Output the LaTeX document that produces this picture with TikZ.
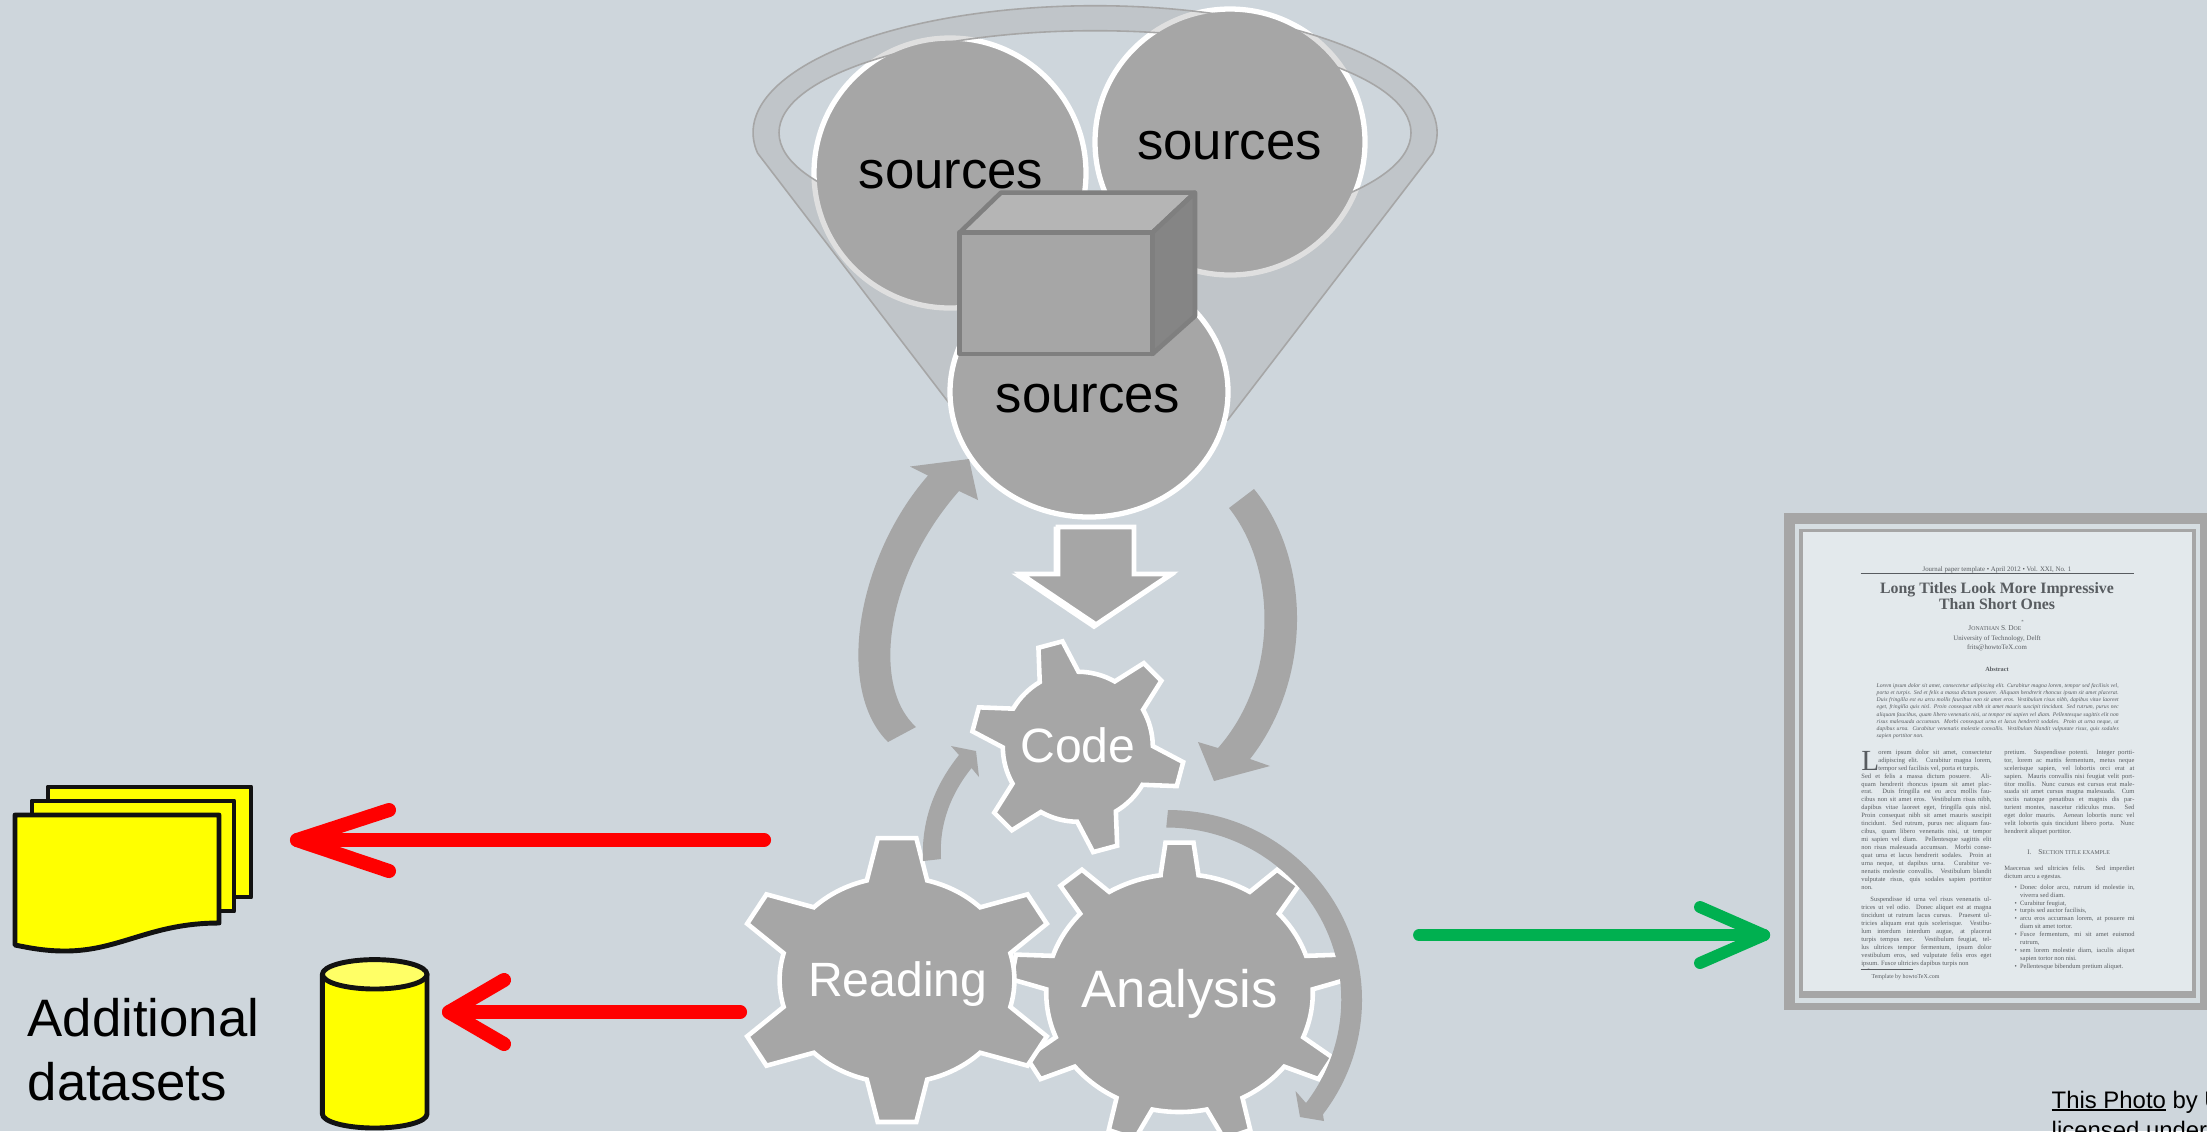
\documentclass[tikz,border=0pt]{standalone}
\usepackage{fontspec}
\usepackage{tikz}
\newfontfamily\arial{Liberation Sans}
\newfontfamily\paperserif{Liberation Serif}
\definecolor{slidebg}{RGB}{206,214,220}
\definecolor{shapegray}{RGB}{166,166,166}
\definecolor{boxline}{RGB}{127,127,127}
\definecolor{boxtop}{RGB}{181,181,181}
\definecolor{boxside}{RGB}{133,133,133}
\definecolor{paperbg}{RGB}{227,233,236}
\definecolor{papertext}{RGB}{88,92,96}
\definecolor{arrowgreen}{RGB}{0,176,80}
\definecolor{datayellow}{RGB}{255,255,0}
\definecolor{datatop}{RGB}{255,255,102}
\definecolor{arrowred}{RGB}{255,0,0}
\newcommand{\nl}{\linebreak}
\newcommand{\paperfont}{\paperserif\fontsize{1.85}{2.26}\selectfont}
\newcommand{\papersc}[2]{{\fontsize{2.1}{2.4}\selectfont #1}{\fontsize{1.65}{2.4}\selectfont #2}}
\newcommand{\paperitem}[1]{\par\hangindent=.054cm\noindent\makebox[.054cm][l]{\textbullet}#1}
% center, xscale, root radius, tip radius, teeth, first tooth, root half angle, tip half angle
\newcommand{\drawgear}[8]{%
\begin{scope}[shift={(#1)},xscale=#2]
\pgfmathsetmacro{\gearstep}{360/#5}
\draw[gearline] ({#6-#7}:#3)
  \foreach \i [evaluate=\i as \a using #6+(\i-1)*\gearstep] in {1,...,#5} {
    -- ({\a-#8}:#4) -- ({\a+#8}:#4) -- ({\a+#7}:#3)
    arc[start angle={\a+#7},end angle={\a+\gearstep-#7},radius=#3]
  } -- cycle;
\end{scope}}
\tikzset{
  sourcedisk/.style={fill=shapegray,draw=white,line width=1.5pt},
  gearline/.style={fill=shapegray,draw=white,line width=1.3pt},
  flowarrow/.style={fill=shapegray},
  redarrow/.style={draw=arrowred,line width=4pt,line cap=round,line join=round},
  greenarrow/.style={draw=arrowgreen,line width=3.4pt,line cap=round,line join=round},
  dataline/.style={fill=datayellow,draw=black!93,line width=1.4pt,line join=round},
  cubeface/.style={draw=boxline,line width=1.3pt,line join=round},
  sourcelabel/.style={anchor=base,inner sep=0,font=\arial\fontsize{15}{17}\selectfont},
  gearlabel/.style={anchor=base,inner sep=0,text=white,font=\arial\fontsize{13.7}{16}\selectfont},
  biglabel/.style={anchor=base,inner sep=0,text=white,font=\arial\fontsize{15}{18}\selectfont},
  papercol/.style={anchor=north west,inner sep=0,text=papertext,text width=1.3cm,align=justify,font=\paperfont},
  paperline/.style={anchor=center,inner sep=0,text=papertext,font=\paperserif\fontsize{1.95}{2.3}\selectfont},
}
\begin{document}
\begin{tikzpicture}[x=1mm,y=-1mm,scale=.1]
\useasboundingbox (0,0) rectangle (2207,1131);
\clip (0,0) rectangle (2207,1131);
\fill[slidebg] (0,0) rectangle (2207,1131);
% Two upper sources
\draw[sourcedisk] (950,173) ellipse [x radius=136,y radius=135];
\draw[sourcedisk] (1230,142) ellipse [x radius=135,y radius=133];
% Funnel
\path[fill=shapegray,fill opacity=.35,even odd rule,draw=shapegray,line width=.45pt]
  (757.5,153) arc[start angle=170.8,end angle=369.2,x radius=342,y radius=127]
  -- (1227.6,420) -- (962,420) -- cycle
  (1095,132.7) ellipse [x radius=316,y radius=102];
% Lower source
\draw[sourcedisk] (1089,392) ellipse [x radius=139,y radius=125];
\node[sourcelabel] (sourcea) at (951,188) {sources};
\node[sourcelabel] (sourceb) at (1229.5,159) {sources};
\node[sourcelabel] (sourcec) at (1088,412) {sources};
% Cube
\draw[cubeface,fill=boxtop] (959.6,232.6) -- (1001,192.6) -- (1195,192.6) -- (1152.4,232.6) -- cycle;
\draw[cubeface,fill=boxside] (1152.4,232.6) -- (1195,192.6) -- (1195,316) -- (1152.4,354) -- cycle;
\draw[cubeface,fill=shapegray] (959.6,232.6) rectangle (1152.4,354);
% Block arrow down
\draw[gearline] (1056,529) -- (1132,529) -- (1132,576) -- (1169,576) -- (1094,626.5) -- (1019,576) -- (1056,576) -- cycle;
\draw[gearline] (1058,527) -- (1134,527) -- (1134,574) -- (1171,574) -- (1096,624.5) -- (1021,574) -- (1058,574) -- cycle;
% Big left arrow
\fill[flowarrow] (888,742) .. controls (835,690) and (856,558) .. (928,475.5) -- (910,466.5) -- (969,459) -- (978,500) -- (959,491)
  .. controls (885,575) and (871,686) .. (916,727) -- cycle;
% Big right arrow
\fill[flowarrow] (1254,489) .. controls (1312,560) and (1312,680) .. (1250,759) -- (1270,766) -- (1214,781) -- (1198,742) -- (1218,748)
  .. controls (1278,680) and (1278,570) .. (1229,508) -- cycle;
% Gears
\drawgear{1077.8,746.7}{1}{75}{106.5}{6}{-105}{15.5}{6.7}
\drawgear{1179.5,993}{1.12}{119}{151}{9}{-90}{8.2}{4.75}
\drawgear{897,980}{1.14}{103}{143}{6}{-90}{14.9}{6.8}
% Small arrow
\fill[flowarrow] (923,861) .. controls (921,820) and (935,785) .. (959,755) -- (951,746) -- (976,751) -- (979,777) -- (971.5,768)
  .. controls (950,795) and (939,825) .. (941,859) -- cycle;
% Arc round the analysis gear
\fill[flowarrow] (1168,810) arc[start angle=-90,end angle=37,x radius=194,y radius=190]
  -- (1324,1121) -- (1300,1117) -- (1295.5,1091) -- (1306,1103)
  arc[start angle=37,end angle=-90,x radius=175,y radius=172] -- cycle;
\node[gearlabel] (codelabel) at (1077.8,762.7) {Code};
\node[gearlabel] (readinglabel) at (897.8,996) {Reading};
\node[biglabel] (analysislabel) at (1179.7,1007.7) {Analysis};
% Stacked documents
\draw[dataline] (48,787) rectangle (251,897);
\draw[dataline] (32,801) rectangle (234,911);
\draw[dataline] (15,815) -- (219,815) -- (219,923) .. controls (150,923) and (120,951) .. (65,951)
  .. controls (45,951) and (30,948) .. (15,945) -- cycle;
% Cylinder
\draw[dataline] (322.4,974.3) -- (322.4,1114) arc[start angle=180,end angle=0,x radius=52.3,y radius=14] -- (427,974.3) -- cycle;
\draw[dataline,fill=datatop] (374.7,974.3) ellipse [x radius=52.3,y radius=14.7];
\node[anchor=base west,inner sep=0,align=left,font=\arial\fontsize{15}{18.2}\selectfont] (datasetlabel) at (27,1100) {Additional\\datasets};
% Red arrows
\coordinate (redstarta) at (764,840);
\coordinate (redtipa) at (297,840);
\draw[redarrow] (redstarta) -- (redtipa);
\draw[redarrow] (389,810) -- (redtipa) -- (389,871);
\coordinate (redstartb) at (740,1012);
\coordinate (redtipb) at (449,1012);
\draw[redarrow] (redstartb) -- (redtipb);
\draw[redarrow] (504,980) -- (redtipb) -- (504,1044);
% Green arrow
\coordinate (greenstart) at (1419,935);
\coordinate (greentip) at (1764,935);
\draw[greenarrow] (greenstart) -- (greentip);
\draw[greenarrow] (1700,907) -- (greentip) -- (1700,963);
% Paper frame
\fill[shapegray] (1784,513.3) rectangle (2207,1009.5);
\fill[slidebg!60!paperbg] (1795,524) rectangle (2200,1003);
\fill[shapegray] (1799.3,529) rectangle (2196,998);
\fill[paperbg] (1802.7,532) rectangle (2192.3,991);
% Paper head
\node[paperline] (paperhead) at (1997,569.6) {Journal paper template \textbullet{} April 2012 \textbullet{} Vol. XXI, No. 1};
\draw[papertext,line width=.15pt] (1860.7,573.6) -- (2134,573.6);
\node[paperline,align=center,font=\paperserif\bfseries\fontsize{4.5}{4.35}\selectfont] (papertitle) at (1997,596) {Long Titles Look More Impressive\\Than Short Ones};
\node[paperline] (paperauthor) at (1997,625.6) {\papersc{J}{ONATHAN} \papersc{S}{.} \papersc{D}{OE}\textsuperscript{*}};
\node[paperline] (paperuni) at (1997,638.4) {University of Technology, Delft};
\node[paperline] (papermail) at (1997,648) {frits@howtoTeX.com};
\node[paperline,font=\paperserif\bfseries\fontsize{1.8}{2}\selectfont] (paperabstract) at (1997,669) {Abstract};
\node[papercol,text width=2.42cm,font=\paperserif\itshape\fontsize{1.62}{2.06}\selectfont] (abstracttext) at (1876,682.5) {Lorem ipsum dolor sit amet, consectetur adipiscing elit. Curabitur magna lorem, tempor sed facilisis vel,\nl
porta et turpis. Sed et felis a massa dictum posuere. Aliquam hendrerit rhoncus ipsum sit amet placerat.\nl
Duis fringilla est eu arcu mollis faucibus non sit amet eros. Vestibulum risus nibh, dapibus vitae laoreet\nl
eget, fringilla quis nisl. Proin consequat nibh sit amet mauris suscipit tincidunt. Sed rutrum, purus nec\nl
aliquam faucibus, quam libero venenatis nisi, ut tempor mi sapien vel diam. Pellentesque sagittis elit non\nl
risus malesuada accumsan. Morbi consequat urna et lacus hendrerit sodales. Proin at urna neque, ut\nl
dapibus urna. Curabitur venenatis molestie convallis. Vestibulum blandit vulputate risus, quis sodales\nl
sapien porttitor non.};
% Left column
\node[anchor=base west,inner sep=0,text=papertext,font=\paperserif\fontsize{8.3}{9}\selectfont] (dropcap) at (1860.7,770.4) {L};
\node[papercol,text width=1.133cm] (leftcoltop) at (1877.7,749) {\parfillskip=0pt orem ipsum dolor sit amet, consectetur\nl
adipiscing elit. Curabitur magna lorem,\nl
tempor sed facilisis vel, porta et turpis.};
\node[papercol] (leftcola) at (1860.7,772.8) {Sed et felis a massa dictum posuere. Ali-\nl
quam hendrerit rhoncus ipsum sit amet plac-\nl
erat. Duis fringilla est eu arcu mollis fau-\nl
cibus non sit amet eros. Vestibulum risus nibh,\nl
dapibus vitae laoreet eget, fringilla quis nisl.\nl
Proin consequat nibh sit amet mauris suscipit\nl
tincidunt. Sed rutrum, purus nec aliquam fau-\nl
cibus, quam libero venenatis nisi, ut tempor\nl
mi sapien vel diam. Pellentesque sagittis elit\nl
non risus malesuada accumsan. Morbi conse-\nl
quat urna et lacus hendrerit sodales. Proin at\nl
urna neque, ut dapibus urna. Curabitur ve-\nl
nenatis molestie convallis. Vestibulum blandit\nl
vulputate risus, quis sodales sapien porttitor\nl
non.};
\node[papercol] (leftcolb) at (1860.7,896.6) {\hspace*{.09cm}Suspendisse id urna vel risus venenatis ul-\nl
trices ut vel odio. Donec aliquet est at magna\nl
tincidunt ut rutrum lacus cursus. Praesent ul-\nl
tricies aliquam erat quis scelerisque. Vestibu-\nl
lum interdum interdum augue, at placerat\nl
turpis tempus nec. Vestibulum feugiat, tel-\nl
lus ultrices tempor fermentum, ipsum dolor\nl
vestibulum eros, sed vulputate felis eros eget\nl
ipsum. Fusce ultricies dapibus turpis non};
\draw[papertext,line width=.1pt] (1860.7,969.6) -- (1913,969.6);
\node[anchor=west,inner sep=0,text=papertext,font=\paperserif\fontsize{1.7}{2}\selectfont] (papernote) at (1867,974) {\textsuperscript{*}Template by howtoTeX.com};
% Right column
\node[papercol] (rightcola) at (2003.7,749) {pretium. Suspendisse potenti. Integer portti-\nl
tor, lorem ac mattis fermentum, metus neque\nl
scelerisque sapien, vel lobortis orci erat at\nl
sapien. Mauris convallis nisi feugiat velit port-\nl
titor mollis. Nunc cursus est cursus erat male-\nl
suada sit amet cursus magna malesuada. Cum\nl
sociis natoque penatibus et magnis dis par-\nl
turient montes, nascetur ridiculus mus. Sed\nl
eget dolor mauris. Aenean lobortis nunc vel\nl
velit lobortis quis tincidunt libero porta. Nunc\nl
hendrerit aliquet porttitor.};
\node[paperline] (papersection) at (2068.7,852) {I.\quad\papersc{S}{ECTION TITLE EXAMPLE}};
\node[papercol] (rightcolb) at (2003.7,864.8) {Maecenas sed ultricies felis. Sed imperdiet\nl
dictum arcu a egestas.};
\node[papercol,text width=1.2cm] (paperlist) at (2014,880.5) {\paperitem{Donec dolor arcu, rutrum id molestie in,\nl viverra sed diam.}
\paperitem{Curabitur feugiat,}
\paperitem{turpis sed auctor facilisis,}
\paperitem{arcu eros accumsan lorem, at posuere mi\nl diam sit amet tortor.}
\paperitem{Fusce fermentum, mi sit amet euismod\nl rutrum,}
\paperitem{sem lorem molestie diam, iaculis aliquet\nl sapien tortor non nisi.}
\paperitem{Pellentesque bibendum pretium aliquet.}};
% Photo credit
\node[anchor=base west,inner sep=0,align=left,font=\arial\fontsize{6.8}{8.5}\selectfont] (photocredit) at (2051,1138) {\rlap{\rule[-.85pt]{32.4pt}{.7pt}}This Photo by U\\licensed under};
\end{tikzpicture}
\end{document}
